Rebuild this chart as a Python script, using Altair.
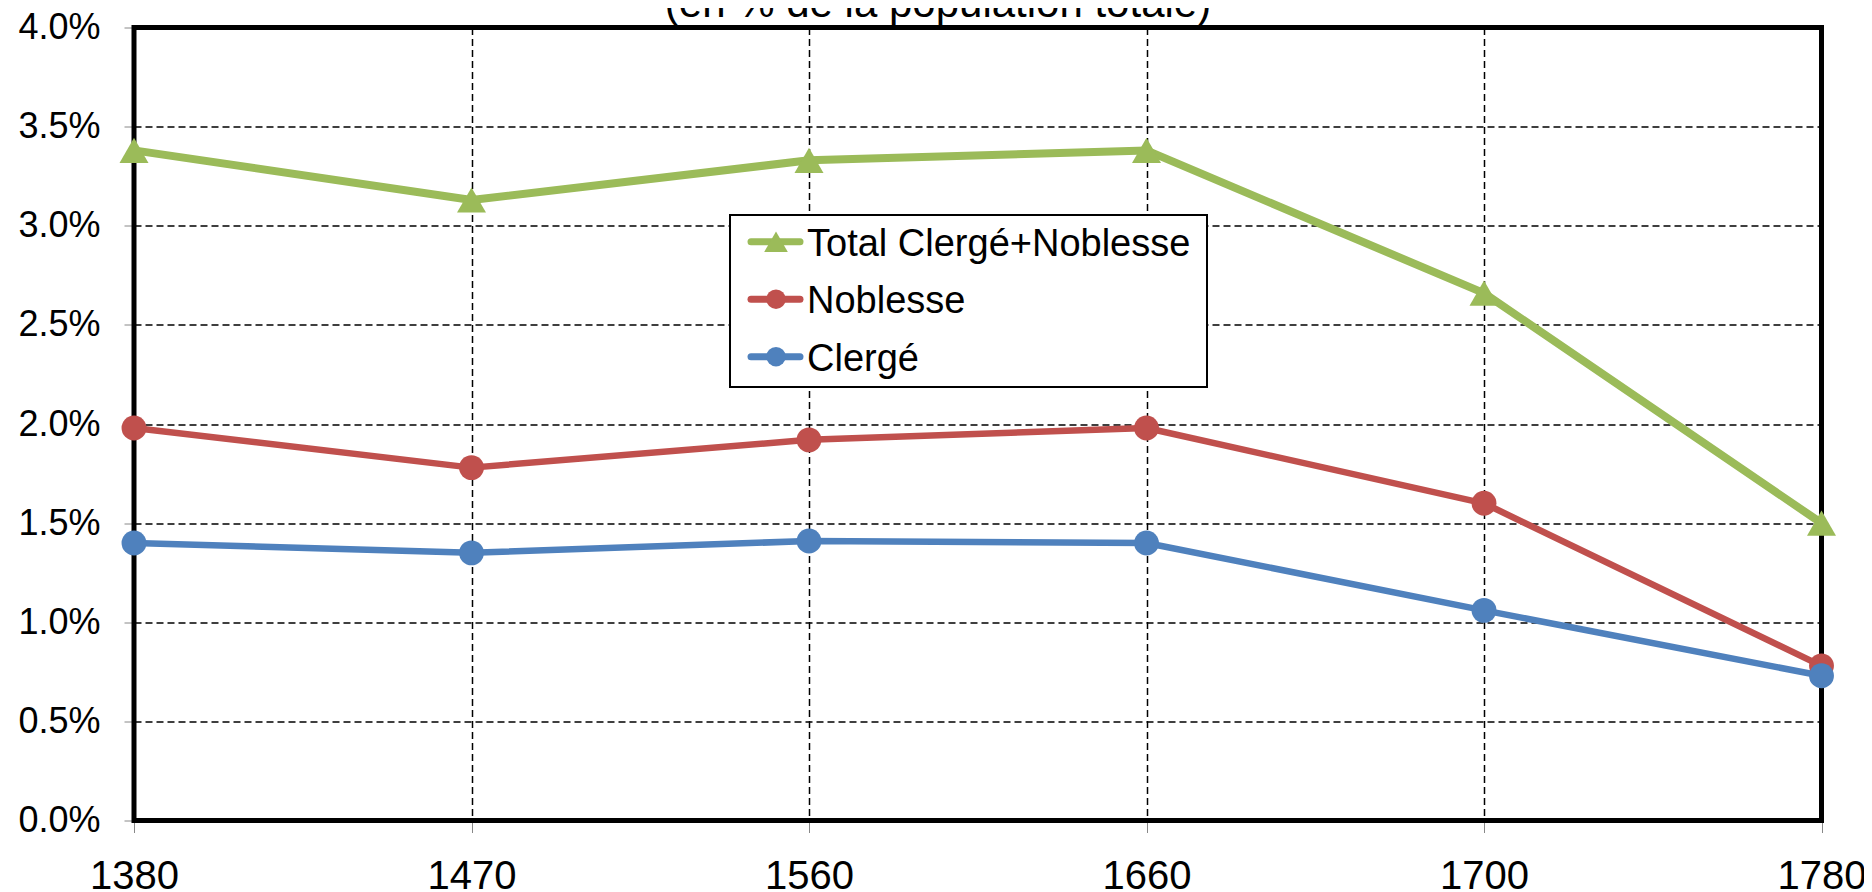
import altair as alt
import pandas as pd

years = ["1380", "1470", "1560", "1660", "1700", "1780"]
series = ["Total Clergé+Noblesse", "Noblesse", "Clergé"]
total = [0.0338, 0.0313, 0.0333, 0.0338, 0.0266, 0.0150]
noblesse = [0.0198, 0.0178, 0.0192, 0.0198, 0.0160, 0.0078]
clerge = [0.0140, 0.0135, 0.0141, 0.0140, 0.0106, 0.0073]
colors = ["#9BBB59", "#C0504D", "#4F81BD"]
y_ticks = [0, 0.005, 0.01, 0.015, 0.02, 0.025, 0.03, 0.035, 0.04]
subtitle = "(en % de la population totale)"

rows = []
for name, vals in zip(series, [total, noblesse, clerge]):
    for yr, v in zip(years, vals):
        rows.append({"year": yr, "series": name, "value": v})
df = pd.DataFrame(rows)
leg_df = pd.DataFrame({"series": series, "row": list(range(len(series)))})
one_df = pd.DataFrame({"k": [0]})

FONT = "Liberation Sans"
is_total = alt.datum.series == series[0]

x_enc = alt.X("year:O", scale=alt.Scale(type="point", padding=0, domain=years), sort=years,
              axis=alt.Axis(title=None, labelAngle=0, labelFont=FONT, labelFontSize=40,
                            labelColor="black", labelPadding=24, tickSize=12, tickColor="#888888",
                            tickWidth=1, domain=False, grid=True, gridColor="black",
                            gridDash=[7, 4], gridWidth=1.5))
y_scale = alt.Scale(domain=[0, 0.04], nice=False, zero=True)
y_enc = alt.Y("value:Q", scale=y_scale,
              axis=alt.Axis(title=None, values=y_ticks, format=".1%", labelFont=FONT,
                            labelFontSize=36, labelColor="black", labelPadding=24, tickSize=10,
                            tickColor="#888888", tickWidth=1, domain=False, grid=True,
                            gridColor="black", gridDash=[7, 4], gridWidth=1.5))
y_enc2 = alt.Y("value:Q", scale=y_scale, axis=None)
color_enc = alt.Color("series:N", scale=alt.Scale(domain=series, range=colors), legend=None)
shape_enc = alt.Shape("series:N", scale=alt.Scale(domain=series, range=["triangle-up", "circle", "circle"]), legend=None)

frame = alt.Chart(one_df).mark_rect(fillOpacity=0, stroke="black", strokeWidth=5).encode(
    x=alt.value(0), x2=alt.value("width"), y=alt.value(0), y2=alt.value("height"))

lines = alt.Chart(df).mark_line(strokeCap="butt", strokeJoin="round").encode(
    x=x_enc, y=y_enc, color=color_enc,
    strokeWidth=alt.condition(is_total, alt.value(8), alt.value(6.5)),
    detail="series:N",
)
points = alt.Chart(df).mark_point(filled=True, opacity=1, strokeWidth=0).encode(
    x=x_enc, y=y_enc2, color=color_enc, shape=shape_enc,
    size=alt.condition(is_total, alt.value(840), alt.value(620)),
)

# legend (drawn with marks)
leg_y = alt.Y("row:Q", scale=alt.Scale(domain=[0, 2], range=[214.2, 329.2]), axis=None)
box = alt.Chart(one_df).mark_rect(fill="white", stroke="black", strokeWidth=2).encode(
    x=alt.value(596), x2=alt.value(1073), y=alt.value(187.5), y2=alt.value(359.5))
leg_lines = alt.Chart(leg_df).mark_rule(strokeWidth=7, strokeCap="round").encode(
    x=alt.value(617), x2=alt.value(666), y=leg_y, color=color_enc)
leg_points = alt.Chart(leg_df).mark_point(filled=True, opacity=1, strokeWidth=0).encode(
    x=alt.value(642), y=leg_y, color=color_enc, shape=shape_enc,
    size=alt.condition(is_total, alt.value(560), alt.value(380)))
leg_text = alt.Chart(leg_df).mark_text(align="left", baseline="middle", font=FONT, fontSize=38,
                                       color="black", dy=3).encode(
    x=alt.value(673), y=leg_y, text="series:N")

title_text = alt.Chart(one_df).mark_text(align="center", baseline="alphabetic", font=FONT,
                                         fontSize=42, color="black").encode(
    x=alt.value(804), y=alt.value(-11), text=alt.value(subtitle))

chart = alt.layer(frame, lines, points, box, leg_lines, leg_points, leg_text, title_text).resolve_scale(
    y="independent"
).properties(
    width=1687.5, height=793,
    autosize=alt.AutoSizeParams(type="none"),
    padding={"left": 126, "top": 19.5, "right": 42.5, "bottom": 70},
).configure_view(stroke=None).configure(background="white")

chart.save("out.html", embed_options={"renderer": "svg", "actions": False})
